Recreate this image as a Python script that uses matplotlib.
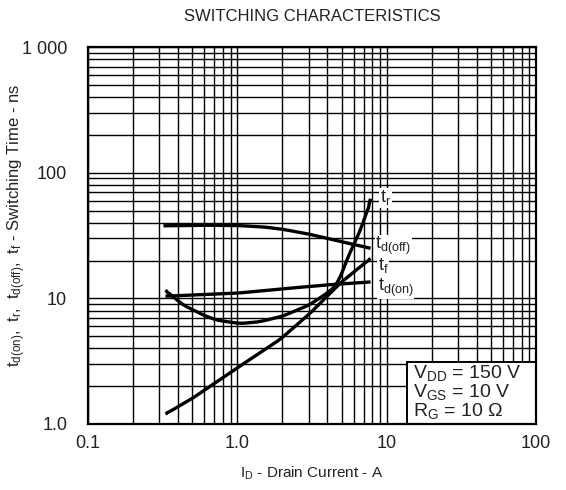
import numpy as np
import matplotlib
matplotlib.use("Agg")
import matplotlib.pyplot as plt
from matplotlib.ticker import FixedLocator, LogLocator, NullFormatter

plt.rcParams['font.family'] = ['Liberation Sans', 'DejaVu Sans']
plt.rcParams['mathtext.default'] = 'regular'

# drain current (A) and switching times (ns)
id_td_off = [0.32, 0.6, 1.0, 1.5, 2.0, 3.0, 4.0, 5.5, 7.8]
td_off = [37.8, 38.2, 38.0, 37.0, 35.5, 32.5, 30.0, 27.5, 25.0]

id_td_on = [0.33, 1.0, 2.0, 4.0, 7.8]
td_on = [10.4, 11.0, 11.9, 12.8, 13.5]

id_tr = [0.33, 0.43, 0.6, 0.73, 1.04, 1.4, 2.0, 3.0, 4.0, 4.7, 5.6, 6.3, 7.0, 7.8]
tr = [11.6, 8.9, 7.3, 6.7, 6.3, 6.5, 7.2, 8.8, 11.0, 13.0, 22.5, 30.0, 40.0, 62.0]

id_tf = [0.33, 0.5, 1.0, 1.93, 3.07, 4.88, 7.8]
tf = [1.2, 1.6, 2.8, 4.7, 7.6, 13.2, 20.8]

xticks = [0.1, 1, 10, 100]
xticklabels = ["0.1", "1.0", "10", "100"]
yticks = [1, 10, 100, 1000]
yticklabels = ["1.0", "10", "100", "1 000"]

txt = '#222222'

fig = plt.figure(figsize=(5.66, 4.90), dpi=100)
ax = fig.add_axes([0.1555, 0.1347, 0.947 - 0.1555, 0.904 - 0.1347])

for x, y in [(id_td_off, td_off), (id_td_on, td_on), (id_tr, tr), (id_tf, tf)]:
    # smooth a bit in log-log space
    lx = np.log10(x)
    ly = np.log10(y)
    xs = np.linspace(lx[0], lx[-1], 200)
    ys = np.interp(xs, lx, ly)
    k = 5
    ypad = np.concatenate([np.full(k, ys[0]), ys, np.full(k, ys[-1])])
    ysm = np.convolve(ypad, np.ones(2 * k + 1) / (2 * k + 1), mode='same')[k:-k]
    ysm[:2] = ys[:2]
    ysm[-2:] = ys[-2:]
    ax.plot(10 ** xs, 10 ** ysm, color='black', lw=2.4, solid_capstyle='butt', zorder=3)

ax.set_xscale('log')
ax.set_yscale('log')
ax.set_xlim(0.1, 100)
ax.set_ylim(1, 1000)

ax.xaxis.set_major_locator(FixedLocator(xticks))
ax.set_xticklabels(xticklabels)
ax.yaxis.set_major_locator(FixedLocator(yticks))
ax.set_yticklabels(yticklabels)
ax.xaxis.set_minor_locator(LogLocator(base=10, subs=np.arange(2, 10)))
ax.yaxis.set_minor_locator(LogLocator(base=10, subs=np.arange(2, 10)))
ax.xaxis.set_minor_formatter(NullFormatter())
ax.yaxis.set_minor_formatter(NullFormatter())
ax.tick_params(which='both', length=0, labelsize=13, labelcolor=txt)
ax.tick_params(axis='x', pad=8)
ax.tick_params(axis='y', pad=15)

ax.grid(True, which='both', color='black', lw=1.0, zorder=1)
for s in ax.spines.values():
    s.set_linewidth(1.6)
    s.set_zorder(5)

lab = dict(fontsize=13, color=txt, va='baseline', ha='left', zorder=4,
           bbox=dict(facecolor='white', edgecolor='none', pad=0.5))
ax.text(9.0, 58, r'$t_r$', **lab)
ax.text(8.4, 24.5, r'$t_{d(off)}$', **lab)
ax.text(8.7, 16.8, r'$t_f$', **lab)
ax.text(8.7, 11.5, r'$t_{d(on)}$', **lab)

ax.add_patch(plt.Rectangle((0.712, 0.0), 0.288, 0.165, transform=ax.transAxes,
                           facecolor='white', edgecolor='black', lw=1.4, zorder=5))
cond = ['$V_{DD}$ = 150 V', '$V_{GS}$ = 10 V', '$R_G$ = 10 Ω']
for i, c in enumerate(cond):
    ax.text(0.725, 0.122 - i * 0.0505, c, transform=ax.transAxes, fontsize=14,
            color=txt, ha='left', va='baseline', zorder=6)

ax.set_title('SWITCHING CHARACTERISTICS', fontsize=12, color=txt, pad=19)
ax.set_xlabel('$I_D$ - Drain Current - A', fontsize=11, color=txt, labelpad=9)
ax.set_ylabel(r'$t_{d(on)},\ t_r,\ t_{d(off)},\ t_f$ - Switching Time - ns',
              fontsize=12, color=txt)
ax.yaxis.set_label_coords(-0.135, 0.528)

fig.savefig('out.png', dpi=100)
